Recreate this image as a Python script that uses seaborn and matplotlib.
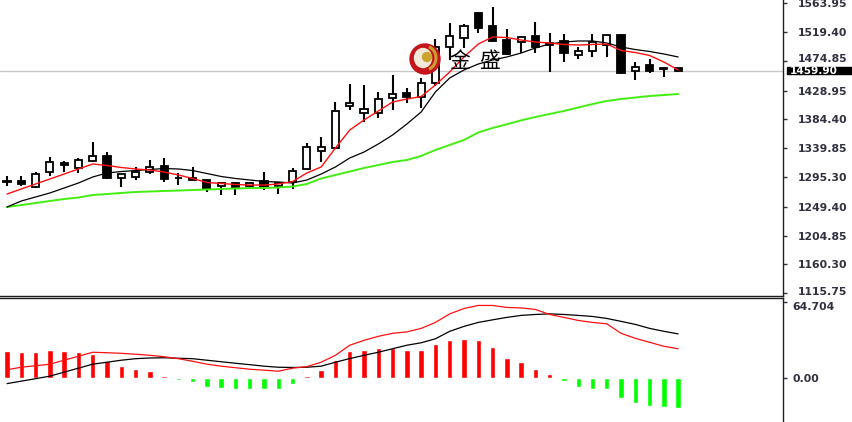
import numpy as np
import pandas as pd
import matplotlib
matplotlib.use("Agg")
import matplotlib.pyplot as plt
from matplotlib.patches import Rectangle, Ellipse, Arc
from matplotlib.transforms import ScaledTranslation
import seaborn as sns

# daily candles
opens = [1287.8, 1289.3, 1280.5, 1302.8, 1316.4, 1308.9, 1320.2, 1328.4, 1293.5, 1296.0,
         1303.7, 1313.0, 1293.2, 1291.6, 1290.9, 1281.6, 1286.7, 1281.6, 1289.8, 1281.6,
         1287.8, 1307.4, 1335.7, 1339.9, 1405.2, 1394.9, 1394.9, 1418.1, 1424.9, 1419.9,
         1440.8, 1495.9, 1509.9, 1549.4, 1528.9, 1507.2, 1504.6, 1513.4, 1499.5, 1506.2,
         1484.0, 1490.2, 1499.5, 1515.0, 1459.8, 1468.6, 1462.0, 1463.5]
highs = [1297.0, 1297.0, 1303.7, 1326.9, 1320.2, 1324.4, 1349.1, 1333.7, 1300.9, 1311.4,
         1321.8, 1325.3, 1301.7, 1311.0, 1291.9, 1286.7, 1288.2, 1288.2, 1303.7, 1288.2,
         1308.9, 1348.5, 1357.8, 1411.9, 1439.2, 1437.7, 1426.4, 1453.1, 1432.6, 1448.0,
         1509.5, 1534.0, 1532.0, 1551.0, 1557.8, 1523.8, 1513.4, 1535.5, 1518.5, 1516.5,
         1495.9, 1516.5, 1515.7, 1516.5, 1473.7, 1477.4, 1466.0, 1464.0]
lows = [1281.6, 1282.0, 1278.0, 1297.5, 1302.8, 1301.2, 1318.7, 1292.4, 1280.5, 1290.9,
        1299.7, 1288.2, 1283.1, 1290.1, 1272.8, 1267.7, 1267.7, 1279.6, 1275.4, 1269.2,
        1277.0, 1306.3, 1319.1, 1338.3, 1399.0, 1381.0, 1386.2, 1399.0, 1410.3, 1401.7,
        1436.1, 1476.3, 1494.4, 1517.6, 1504.6, 1484.0, 1486.7, 1487.6, 1458.2, 1473.7,
        1477.4, 1481.4, 1481.4, 1454.7, 1445.4, 1455.8, 1450.5, 1458.2]
closes = [1289.3, 1285.1, 1299.7, 1319.1, 1314.0, 1321.3, 1327.5, 1293.5, 1299.7, 1302.8,
          1311.4, 1292.4, 1294.7, 1293.2, 1276.5, 1285.8, 1280.5, 1285.8, 1280.5, 1285.8,
          1304.8, 1341.4, 1341.4, 1398.0, 1410.3, 1400.1, 1415.6, 1423.3, 1418.7, 1441.5,
          1496.4, 1513.4, 1528.9, 1525.3, 1506.2, 1485.6, 1512.3, 1496.9, 1503.1, 1487.6,
          1490.2, 1504.6, 1515.0, 1456.7, 1466.0, 1459.8, 1464.4, 1459.9]

# moving averages
ma5 = [1269.2, 1277.0, 1284.7, 1292.4, 1300.1, 1307.9, 1315.6, 1313.3, 1310.2, 1307.9,
       1306.3, 1303.2, 1298.6, 1293.2, 1287.0, 1285.5, 1283.9, 1283.1, 1283.1, 1284.7,
       1288.5, 1301.7, 1311.0, 1340.3, 1368.1, 1383.6, 1397.5, 1411.4, 1416.0, 1419.9,
       1437.7, 1457.8, 1481.0, 1501.0, 1511.9, 1511.1, 1507.2, 1504.1, 1502.6, 1500.3,
       1499.5, 1500.3, 1501.0, 1491.0, 1487.9, 1483.3, 1473.2, 1460.9]
ma10 = [1249.1, 1258.4, 1264.6, 1270.8, 1278.5, 1286.2, 1295.5, 1301.7, 1304.0, 1305.5,
        1307.1, 1308.6, 1307.9, 1305.5, 1300.9, 1296.3, 1293.2, 1290.9, 1288.5, 1287.8,
        1286.2, 1290.9, 1300.1, 1311.0, 1324.9, 1334.1, 1346.5, 1360.4, 1377.4, 1396.0,
        1426.9, 1448.5, 1460.9, 1470.1, 1476.3, 1481.0, 1487.1, 1494.9, 1501.0, 1504.1,
        1505.7, 1505.7, 1502.6, 1496.4, 1492.5, 1489.5, 1485.6, 1481.0]
ma60 = [1249.1, 1252.2, 1255.3, 1258.4, 1261.5, 1263.8, 1267.7, 1269.2, 1270.8, 1272.3,
        1273.1, 1273.9, 1274.6, 1275.4, 1276.2, 1277.0, 1277.7, 1278.5, 1278.5, 1279.3,
        1280.8, 1284.7, 1293.2, 1298.6, 1304.0, 1309.4, 1314.0, 1318.7, 1321.8, 1328.0,
        1337.2, 1345.0, 1352.7, 1364.3, 1371.2, 1377.0, 1383.0, 1388.2, 1392.9, 1397.5,
        1402.9, 1408.3, 1413.0, 1416.0, 1418.4, 1420.7, 1422.2, 1423.8]

# MACD panel
macd_hist = [22.6, 22.0, 22.0, 23.4, 22.6, 22.0, 20.6, 14.3, 9.8, 7.0,
             5.5, 1.3, -2.0, -4.0, -8.3, -9.0, -10.0, -10.0, -10.0, -9.4,
             -5.0, 1.3, 6.4, 15.5, 22.6, 24.0, 25.4, 25.4, 23.4, 23.4,
             28.5, 31.9, 33.3, 31.9, 26.2, 17.2, 13.5, 7.0, 2.7, -3.0,
             -7.8, -9.4, -9.4, -17.2, -21.4, -24.0, -24.8, -25.7]
macd_dif = [6.8, 8.9, 10.2, 11.5, 14.9, 18.3, 21.7, 21.3, 20.8, 20.0,
            19.1, 17.9, 16.2, 14.0, 11.5, 9.8, 8.5, 7.2, 6.4, 5.5,
            8.1, 9.4, 13.2, 19.1, 27.7, 31.9, 35.3, 37.9, 39.1, 42.1,
            47.2, 54.5, 59.1, 61.7, 61.7, 60.0, 59.6, 58.3, 54.0, 51.5,
            48.9, 47.2, 46.0, 37.9, 33.6, 30.2, 26.8, 24.7]
macd_dea = [-5.1, -3.0, -0.9, 1.3, 4.7, 8.1, 11.5, 13.2, 14.9, 16.2,
            16.8, 17.0, 16.6, 16.2, 14.9, 13.6, 12.3, 11.1, 9.8, 8.9,
            8.7, 8.9, 9.8, 13.2, 16.3, 19.1, 21.7, 24.7, 27.7, 29.8,
            33.2, 39.6, 43.8, 47.2, 49.4, 51.5, 53.2, 54.0, 54.5, 54.0,
            53.2, 52.3, 50.6, 48.1, 45.5, 42.1, 39.6, 37.4]

price_ticks = [1563.95, 1519.40, 1474.85, 1428.95, 1384.40, 1339.85,
               1295.30, 1249.40, 1204.85, 1160.30, 1115.75]
price_labels = ["1563.95", "1519.40", "1474.85", "1428.95", "1384.40", "1339.85",
                "1295.30", "1249.40", "1204.85", "1160.30", "1115.75"]
last_price = 1459.90
macd_ticks = [64.704, 0.0]
macd_labels = ["64.704", "0.00"]

df = pd.DataFrame({"idx": np.arange(len(opens)), "open": opens, "high": highs,
                   "low": lows, "close": closes, "ma5": ma5, "ma10": ma10,
                   "ma60": ma60, "hist": macd_hist, "dif": macd_dif, "dea": macd_dea})

sns.set_style("white")
plt.rcParams['font.family'] = ['DejaVu Sans', 'Noto Sans CJK SC']

W, H = 852, 422
fig = plt.figure(figsize=(W / 100, H / 100), dpi=100)
ax = fig.add_axes([0, 1 - 296 / H, 783 / W, 296 / H])
ax2 = fig.add_axes([0, 0, 783 / W, 124.5 / H])

# candles
ax.vlines(df["idx"], df["low"], df["high"], color="black", lw=1.5, zorder=2)
up = df["close"] >= df["open"]
body_h = (df["close"] - df["open"]).abs().clip(lower=0.8)
body_b = df[["open", "close"]].min(axis=1)
ax.bar(df["idx"], body_h, bottom=body_b, width=0.5,
       color=np.where(up, "white", "black"), edgecolor="black",
       linewidth=1.3, zorder=3)

# moving averages
sns.lineplot(data=df, x="idx", y="ma60", color="#44ee11", lw=1.4, ax=ax, zorder=4)
sns.lineplot(data=df, x="idx", y="ma10", color="black", lw=0.9, ax=ax, zorder=4)
sns.lineplot(data=df, x="idx", y="ma5", color="#ff1010", lw=1.0, ax=ax, zorder=5)

ax.axhline(last_price, color="#c8c8c8", lw=1, zorder=1)

ax.set_xlim(-0.49, 54.34)
ax.set_ylim(1111.6, 1569.05)
ax.set_xticks([])
ax.set_xlabel("")
ax.set_ylabel("")
ax.yaxis.tick_right()
ax.set_yticks(price_ticks, price_labels)
ax.tick_params(axis="y", direction="out", length=3, width=1, pad=8,
               labelsize=7.8, colors="#303040")
for t in ax.get_yticklabels():
    t.set_fontweight("bold")
    if t.get_text() == "1474.85":
        t.set_transform(t.get_transform() + ScaledTranslation(0, 3 / 100, fig.dpi_scale_trans))
    if t.get_text() == "1115.75":
        t.set_transform(t.get_transform() + ScaledTranslation(0, 2 / 100, fig.dpi_scale_trans))
for s in ["top", "left"]:
    ax.spines[s].set_visible(False)
for s in ["right", "bottom"]:
    ax.spines[s].set_color("#202020")
    ax.spines[s].set_linewidth(1)

# current price tag
trans = ax.get_yaxis_transform()
ax.add_patch(Rectangle((787 / 783, last_price - 5.5), 70 / 783, 11.5, transform=trans,
                       color="black", clip_on=False, zorder=6))
ax.text(790 / 783, last_price, "1459.90", transform=trans, color="white",
        fontsize=7.6, fontweight="bold", va="center", ha="left", zorder=7)

# logo
fx = lambda px: px / W
fy = lambda py: 1 - py / H
fig.patches.append(Ellipse((fx(425), fy(59)), 30 / W, 30 / H, transform=fig.transFigure,
                           color="#c4141c", zorder=8))
fig.patches.append(Ellipse((fx(423), fy(58)), 17 / W, 19 / H, transform=fig.transFigure,
                           color="#f4e8d8", zorder=9))
fig.patches.append(Arc((fx(425), fy(58)), 22 / W, 24 / H, theta1=-80, theta2=80,
                       transform=fig.transFigure, color="#c8a030", lw=2.2, zorder=10))
fig.patches.append(Ellipse((fx(427), fy(57)), 9 / W, 9 / H, transform=fig.transFigure,
                           color="#caa42c", zorder=10))
fig.text(fx(460), fy(61), "金", fontsize=15, family=["Noto Sans CJK SC"],
         ha="center", va="center", color="black")
fig.text(fx(490), fy(61), "盛", fontsize=15, family=["Noto Sans CJK SC"],
         ha="center", va="center", color="black")

# MACD
ax2.bar(df["idx"], df["hist"], width=0.38,
        color=np.where(df["hist"] > 0, "#ff0000", "#00ff00"), zorder=2)
sns.lineplot(data=df, x="idx", y="dea", color="black", lw=0.9, ax=ax2, zorder=3)
sns.lineplot(data=df, x="idx", y="dif", color="#ff1010", lw=0.9, ax=ax2, zorder=3)
ax2.set_xlim(-0.49, 54.34)
ax2.set_ylim(-37.9, 68.5)
ax2.set_xticks([])
ax2.set_xlabel("")
ax2.set_ylabel("")
ax2.yaxis.tick_right()
ax2.set_yticks(macd_ticks, macd_labels)
ax2.tick_params(axis="y", direction="out", length=3, width=1, pad=4,
                labelsize=7.8, colors="#303040")
for t in ax2.get_yticklabels():
    t.set_fontweight("bold")
    if t.get_text() == "64.704":
        t.set_transform(t.get_transform() + ScaledTranslation(0, -4 / 100, fig.dpi_scale_trans))
for s in ["bottom", "left"]:
    ax2.spines[s].set_visible(False)
for s in ["right", "top"]:
    ax2.spines[s].set_color("#202020")
    ax2.spines[s].set_linewidth(1)

fig.savefig("out.png", dpi=100, facecolor="white")
